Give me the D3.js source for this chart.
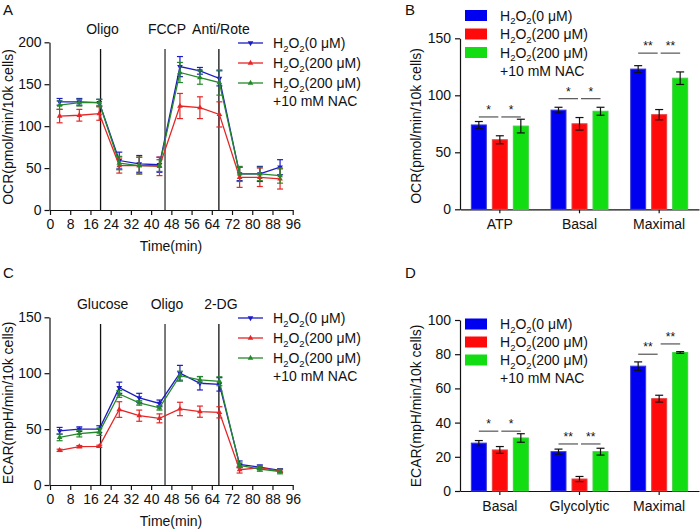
<!DOCTYPE html>
<html>
<head>
<meta charset="utf-8">
<script src="https://cdn.jsdelivr.net/npm/d3@7"></script>
<style>
body { margin: 0; background: #fff; }
text { font-family: "Liberation Sans", Arial, sans-serif; fill: #111; }
</style>
</head>
<body>
<div id="chart"></div>
<script>
// time course (panels A and C)
var times = [3.8, 11.6, 19.5, 27.4, 35.3, 43.3, 51.4, 59.3, 67, 75, 83, 91];
var timeTicks = [0, 8, 16, 24, 32, 40, 48, 56, 64, 72, 80, 88, 96];

var ocr0 = [129, 129, 128, 59, 55, 54, 171, 166, 157, 43, 43, 51];
var ocr0Err = [4, 4, 4, 10, 10, 9, 12, 4, 9, 8, 9, 9];
var ocr200 = [112, 113, 115, 53, 53, 52, 124, 122, 114, 39, 39, 37];
var ocr200Err = [8, 7, 8, 9, 10, 11, 15, 13, 15, 12, 11, 12];
var ocrNac = [125, 128, 128, 56, 53, 53, 164, 158, 152, 43, 43, 41];
var ocrNacErr = [5, 4, 4, 8, 10, 7, 12, 8, 15, 9, 8, 9];

var ecar0 = [48.5, 50, 50, 87, 78, 73, 100, 91, 90, 18.5, 16, 13];
var ecar0Err = [3, 2, 3, 5, 4, 3, 7, 6, 6, 3, 2, 1.5];
var ecar200 = [31, 34.3, 34.6, 67.5, 62, 59.6, 68, 65.6, 65, 13.7, 15.5, 12.5];
var ecar200Err = [1, 1, 1, 7, 5, 4, 6, 5, 5, 3, 1.5, 1];
var ecarNac = [42.6, 46, 47.4, 81.4, 73.4, 69, 97.8, 94, 92.8, 17.6, 14.3, 12];
var ecarNacErr = [3, 3, 3, 3, 2, 2, 4, 3, 4, 2, 2, 2];

var injectTimes = [20, 45.5, 66.8];
var injectA = ["Oligo", "FCCP", "Anti/Rote"];
var injectC = ["Glucose", "Oligo", "2-DG"];

// summary bars (panels B and D)
var catsB = ["ATP", "Basal", "Maximal"];
var ocrBar0 = [74, 87, 123], ocrBar0Err = [3, 2.5, 3];
var ocrBar200 = [61, 75, 83], ocrBar200Err = [3.5, 5.5, 4.5];
var ocrBarNac = [73, 86, 115], ocrBarNacErr = [6, 3.5, 5.5];
var sigB = [[0, 0, 1, 81, "*"], [0, 1, 2, 81, "*"], [1, 0, 1, 97, "*"], [1, 1, 2, 97, "*"], [2, 0, 1, 137, "**"], [2, 1, 2, 137, "**"]];

var catsD = ["Basal", "Glycolytic", "Maximal"];
var ecarBar0 = [28, 23, 73], ecarBar0Err = [1.5, 1.5, 2.5];
var ecarBar200 = [24, 7, 54], ecarBar200Err = [2, 1.5, 2];
var ecarBarNac = [31, 23, 81], ecarBarNacErr = [2.5, 2, 0.5];
var sigD = [[0, 0, 1, 35, "*"], [0, 1, 2, 35, "*"], [1, 0, 1, 27.5, "**"], [1, 1, 2, 27.5, "**"], [2, 0, 1, 80, "**"], [2, 1, 2, 86, "**"]];

var doses = ["(0 μM)", "(200 μM)", "(200 μM)"];
var lineColors = ["#1c1cc4", "#e62626", "#24882a"];
var barColors = ["#0000f0", "#ff0a0a", "#12dd12"];
var barStrokes = ["#3a3ad8", "#e84040", "#40d040"];

var svg = d3.select("#chart").append("svg")
    .attr("width", 700).attr("height", 529);

function h2o2(sel, suffix) {
    sel.append("tspan").text("H");
    sel.append("tspan").attr("font-size", "9.5px").attr("dy", 3.5).text("2");
    sel.append("tspan").attr("dy", -3.5).text("O");
    sel.append("tspan").attr("font-size", "9.5px").attr("dy", 3.5).text("2");
    sel.append("tspan").attr("dy", -3.5).text(suffix);
}

function styleAxis(g) {
    g.selectAll("path, line").attr("stroke", "#111").attr("stroke-width", 1.2);
    g.selectAll("text").style("font-size", "14px")
        .style("font-family", '"Liberation Sans", Arial, sans-serif').attr("fill", "#111");
}

function panelLetter(x, y, s) {
    svg.append("text").attr("x", x).attr("y", y).style("font-size", "15px").text(s);
}

function yTitle(x, y, s) {
    svg.append("text").attr("transform", "translate(" + x + "," + y + ") rotate(-90)")
        .attr("text-anchor", "middle").style("font-size", "14px").text(s);
}

function lineChart(o) {
    var x = d3.scaleLinear().domain([0, 96]).range([50, 292.7]);
    var y = d3.scaleLinear().domain([0, o.ymax]).range([o.y0, o.ytop]);

    svg.append("g").attr("transform", "translate(0," + o.y0 + ")")
        .call(d3.axisBottom(x).tickValues(timeTicks).tickSize(5).tickSizeOuter(0).tickPadding(4))
        .call(styleAxis);
    svg.append("g").attr("transform", "translate(49.5,0)")
        .call(d3.axisLeft(y).tickValues(o.yticks).tickSize(5).tickSizeOuter(0).tickPadding(3))
        .call(styleAxis);

    // injection lines
    injectTimes.forEach(function (t, i) {
        svg.append("line").attr("x1", x(t)).attr("x2", x(t))
            .attr("y1", o.lineTop).attr("y2", o.y0)
            .attr("stroke", i === 1 ? "#5a5a5a" : "#111").attr("stroke-width", i === 1 ? 1.6 : 1.3);
        svg.append("text").attr("x", x(t) + 2).attr("y", o.labelY)
            .attr("text-anchor", "middle").style("font-size", "14px").text(o.inject[i]);
    });

    var line = d3.line().x(function (d) { return x(d[0]); }).y(function (d) { return y(d[1]); });
    o.series.forEach(function (s, k) {
        var pts = times.map(function (t, i) { return [t, s[0][i], s[1][i]]; });
        var c = lineColors[k];
        var g = svg.append("g");
        g.append("path").datum(pts).attr("d", line).attr("fill", "none")
            .attr("stroke", c).attr("stroke-width", 1.3);
        pts.forEach(function (p) {
            var cx = x(p[0]);
            g.append("line").attr("x1", cx).attr("x2", cx)
                .attr("y1", y(p[1] - p[2])).attr("y2", y(p[1] + p[2])).attr("stroke", c).attr("stroke-width", 1.2);
            [p[1] - p[2], p[1] + p[2]].forEach(function (v) {
                g.append("line").attr("x1", cx - 3).attr("x2", cx + 3)
                    .attr("y1", y(v)).attr("y2", y(v)).attr("stroke", c).attr("stroke-width", 1.2);
            });
            g.append("path").attr("d", d3.symbol(d3.symbolTriangle, 14)())
                .attr("transform", "translate(" + cx + "," + y(p[1]) + ")" + (k === 0 ? " rotate(180)" : ""))
                .attr("fill", c);
        });
    });

    // legend
    o.legendRows.forEach(function (ry, k) {
        svg.append("line").attr("x1", 238).attr("x2", 263).attr("y1", ry).attr("y2", ry)
            .attr("stroke", lineColors[k]).attr("stroke-width", 1.3);
        svg.append("path").attr("d", d3.symbol(d3.symbolTriangle, 14)())
            .attr("transform", "translate(250.5," + ry + ")" + (k === 0 ? " rotate(180)" : ""))
            .attr("fill", lineColors[k]);
        svg.append("text").attr("x", 273).attr("y", ry + 5).style("font-size", "14px")
            .call(h2o2, doses[k]);
    });
    svg.append("text").attr("x", 273).attr("y", o.nacY + 5).style("font-size", "14px").text("+10 mM NAC");

    svg.append("text").attr("x", 171).attr("y", o.timeY).attr("text-anchor", "middle")
        .style("font-size", "14px").text("Time(min)");
}

function barChart(o) {
    var x = d3.scaleBand().domain(o.cats).range([460, 699]);
    var y = d3.scaleLinear().domain([0, o.ymax]).range([o.y0, o.ytop]);
    var inner = d3.scaleBand().domain([0, 1, 2]).range([-31.5, 31.5])
        .paddingInner(6 / 21).paddingOuter(3 / 21);

    svg.append("g").attr("transform", "translate(0," + o.y0 + ")")
        .call(d3.axisBottom(x).tickSize(4).tickSizeOuter(0).tickPadding(6))
        .call(styleAxis);
    svg.append("g").attr("transform", "translate(460,0)")
        .call(d3.axisLeft(y).tickValues(o.yticks).tickSize(5).tickSizeOuter(0).tickPadding(4))
        .call(styleAxis);

    function cx(ci, k) { return x(o.cats[ci]) + x.bandwidth() / 2 + inner(k) + inner.bandwidth() / 2; }

    o.series.forEach(function (s, k) {
        o.cats.forEach(function (cat, ci) {
            var v = s[0][ci], e = s[1][ci];
            var bx = x(cat) + x.bandwidth() / 2 + inner(k);
            svg.append("rect").attr("x", bx).attr("y", y(v))
                .attr("width", inner.bandwidth()).attr("height", o.y0 - y(v))
                .attr("fill", barColors[k]).attr("stroke", barStrokes[k]).attr("stroke-width", 1);
            var mx = cx(ci, k);
            svg.append("line").attr("x1", mx).attr("x2", mx).attr("y1", y(v - e)).attr("y2", y(v + e))
                .attr("stroke", "#111").attr("stroke-width", 1.2);
            [v - e, v + e].forEach(function (t) {
                svg.append("line").attr("x1", mx - 4).attr("x2", mx + 4).attr("y1", y(t)).attr("y2", y(t))
                    .attr("stroke", "#111").attr("stroke-width", 1.2);
            });
        });
    });

    o.sig.forEach(function (d) {
        var x1 = cx(d[0], d[1]) + (d[1] === 0 ? 0 : 1.5), x2 = cx(d[0], d[2]) - (d[2] === 2 ? 0 : 1.5);
        svg.append("line").attr("x1", x1).attr("x2", x2).attr("y1", y(d[3])).attr("y2", y(d[3]))
            .attr("stroke", "#333").attr("stroke-width", 1);
        svg.append("text").attr("x", (x1 + x2) / 2).attr("y", y(d[3]) - 3).attr("text-anchor", "middle")
            .style("font-size", "12px").style("fill", "#111").text(d[4]);
    });

    o.legendRows.forEach(function (ry, k) {
        svg.append("rect").attr("x", 465).attr("y", ry - 5.5).attr("width", 22).attr("height", 11)
            .attr("fill", barColors[k]);
        svg.append("text").attr("x", 500).attr("y", ry + 5).style("font-size", "14px").call(h2o2, doses[k]);
    });
    svg.append("text").attr("x", 500).attr("y", o.nacY + 5).style("font-size", "14px").text("+10 mM NAC");
}

// A
panelLetter(3, 15, "A");
yTitle(13, 127, "OCR(pmol/min/10k cells)");
lineChart({
    y0: 210, ytop: 42.3, ymax: 200, yticks: [0, 50, 100, 150, 200],
    lineTop: 49, labelY: 34, inject: injectA, timeY: 251,
    series: [[ocr0, ocr0Err], [ocr200, ocr200Err], [ocrNac, ocrNacErr]],
    legendRows: [43, 63, 83], nacY: 101
});

// B
panelLetter(405, 15, "B");
yTitle(421, 126, "OCR(pmol/min/10k cells)");
barChart({
    cats: catsB, y0: 209.3, ytop: 38.3, ymax: 150, yticks: [0, 50, 100, 150],
    series: [[ocrBar0, ocrBar0Err], [ocrBar200, ocrBar200Err], [ocrBarNac, ocrBarNacErr]],
    sig: sigB, legendRows: [15.5, 34, 52.5], nacY: 71
});

// C
panelLetter(3, 278, "C");
yTitle(13, 403, "ECAR(mpH/min/10k cells)");
lineChart({
    y0: 485, ytop: 317.3, ymax: 150, yticks: [0, 50, 100, 150],
    lineTop: 324, labelY: 309, inject: injectC, timeY: 526,
    series: [[ecar0, ecar0Err], [ecar200, ecar200Err], [ecarNac, ecarNacErr]],
    legendRows: [318, 338, 358], nacY: 376
});

// D
panelLetter(405, 278, "D");
yTitle(421, 406, "ECAR(mpH/min/10k cells)");
barChart({
    cats: catsD, y0: 491, ytop: 320, ymax: 100, yticks: [0, 20, 40, 60, 80, 100],
    series: [[ecarBar0, ecarBar0Err], [ecarBar200, ecarBar200Err], [ecarBarNac, ecarBarNacErr]],
    sig: sigD, legendRows: [324, 342, 360], nacY: 378
});
</script>
</body>
</html>
